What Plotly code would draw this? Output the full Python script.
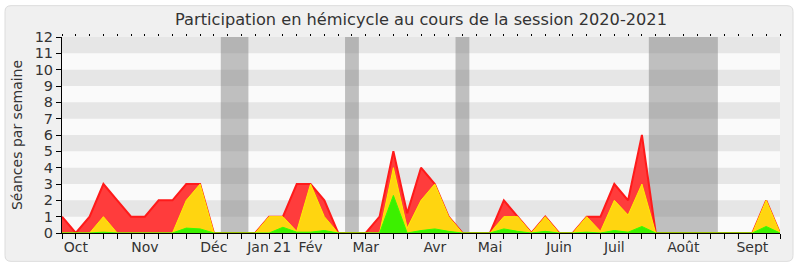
import plotly.graph_objects as go

# Weekly values (week index 0..52, session 2020-2021)
weeks = list(range(53))
total_red = [1, 0, 1, 3, 2, 1, 1, 2, 2, 3,
             3, 0, 0, 0, 0, 1, 1, 3, 3, 2,
             0, 0, 0, 1, 5, 1.2, 4, 3, 1, 0,
             0, 0, 2, 1, 0, 1, 0, 0, 1, 1,
             3, 2, 6, 0, 0, 0, 0, 0, 0, 0,
             0, 2, 0]
mid_yellow = [0, 0, 0, 1, 0, 0, 0, 0, 0, 2,
              3, 0, 0, 0, 0, 1, 1, 0.1, 3, 1,
              0, 0, 0, 0, 4, 0.3, 2, 3, 1, 0,
              0, 0, 1, 1, 0, 1, 0, 0, 1, 0.1,
              2, 1.1, 3, 0, 0, 0, 0, 0, 0, 0,
              0, 2, 0]
low_green = [0, 0, 0, 0.05, 0, 0, 0, 0, 0, 0.3,
             0.25, 0, 0, 0, 0, 0, 0.35, 0.05, 0.05, 0.15,
             0, 0, 0, 0, 2.3, 0, 0.15, 0.25, 0.1, 0,
             0, 0, 0.25, 0.1, 0, 0.1, 0, 0, 0.05, 0,
             0.15, 0.05, 0.4, 0, 0, 0, 0, 0, 0, 0,
             0, 0.4, 0]

month_ticks = [1, 6, 11, 15, 18, 22, 27, 31, 36, 40, 45, 50]
month_labels = ["Oct", "Nov", "Déc", "Jan 21", "Fév", "Mar", "Avr", "Mai", "Juin", "Juil", "Août", "Sept"]
vacations = [(11.5, 13.5), (20.5, 21.5), (28.5, 29.5), (42.5, 47.5)]
y_ticks = list(range(13))

W, H = 800, 267
ML, MR, MT, MB = 62, 20, 36.5, 33.5
pw = W - ML - MR
ph = H - MT - MB

def px_x(px):
    return (px - ML) / pw

def px_y(py):
    return (H - MB - py) / ph

fig = go.Figure()
fig.add_trace(go.Scatter(x=weeks, y=total_red, mode="lines", fill="tozeroy",
                         line=dict(color="#ff1a1a", width=2), fillcolor="#ff3c3c",
                         hoverinfo="skip", showlegend=False))
fig.add_trace(go.Scatter(x=weeks, y=mid_yellow, mode="lines", fill="tozeroy",
                         line=dict(color="#ffee00", width=1), fillcolor="#ffd510",
                         hoverinfo="skip", showlegend=False))
fig.add_trace(go.Scatter(x=weeks, y=low_green, mode="lines", fill="tozeroy",
                         line=dict(color="#33ff00", width=1), fillcolor="#3cf000",
                         hoverinfo="skip", showlegend=False))
fig.add_trace(go.Scatter(x=[], y=[], xaxis="x2", showlegend=False))

shapes = []
# outer rounded frame
x0, x1 = px_x(5), px_x(793)
y0, y1 = px_y(262), px_y(5)
rx, ry = 6 / pw, 6 / ph
path = (f"M {x0+rx},{y0} L {x1-rx},{y0} Q {x1},{y0} {x1},{y0+ry} "
        f"L {x1},{y1-ry} Q {x1},{y1} {x1-rx},{y1} L {x0+rx},{y1} Q {x0},{y1} {x0},{y1-ry} "
        f"L {x0},{y0+ry} Q {x0},{y0} {x0+rx},{y0} Z")
shapes.append(dict(type="path", path=path, xref="paper", yref="paper",
                   fillcolor="#f0f0f0", line=dict(color="#dcdcdc", width=1), layer="below"))
# plot area background
shapes.append(dict(type="rect", xref="paper", yref="paper", x0=0, x1=1, y0=0, y1=1,
                   fillcolor="#fafafa", line=dict(width=0), layer="below"))
for k in range(1, 12, 2):
    shapes.append(dict(type="rect", xref="paper", yref="y", x0=0, x1=1, y0=k, y1=k + 1,
                       fillcolor="#e6e6e6", line=dict(width=0), layer="below"))
for a, b in vacations:
    shapes.append(dict(type="rect", xref="x", yref="paper", x0=a, x1=b, y0=0, y1=1,
                       fillcolor="rgba(120,120,120,0.45)", line=dict(width=0), layer="below"))

ticktext = []
for w in weeks:
    ticktext.append(month_labels[month_ticks.index(w)] if w in month_ticks else "")

font_family = "DejaVu Sans"
fig.update_layout(
    width=W, height=H,
    margin=dict(l=ML, r=MR, t=MT, b=MB, pad=0, autoexpand=False),
    paper_bgcolor="white",
    plot_bgcolor="rgba(0,0,0,0)",
    font=dict(family=font_family, color="#333333", size=14),
    title=dict(text="Participation en hémicycle au cours de la session 2020-2021",
               x=(ML + pw / 2) / W, xanchor="center", y=1 - 19 / H, yanchor="middle",
               font=dict(size=16.2, color="#333333")),
    shapes=shapes,
    xaxis=dict(range=[0, 52], tickmode="array", tickvals=weeks, ticktext=ticktext,
               ticks="outside", ticklen=5, tickcolor="black", showline=True,
               linecolor="black", linewidth=1, showgrid=False, zeroline=False,
               automargin=False, ticklabelstandoff=-4,
               tickfont=dict(size=14, color="#333333")),
    xaxis2=dict(range=[0, 52], overlaying="x", side="top", anchor="y", tickmode="array",
                tickvals=weeks, ticks="outside", ticklen=2, tickcolor="black",
                showticklabels=False, showline=False, showgrid=False, zeroline=False,
                automargin=False),
    yaxis=dict(range=[0, 12], tickmode="array", tickvals=y_ticks,
               ticks="outside", ticklen=5, tickcolor="black", showline=True,
               linecolor="black", linewidth=1, showgrid=False, zeroline=False,
               automargin=False,
               title=dict(text="Séances par semaine", font=dict(size=14, color="#333333"), standoff=8),
               tickfont=dict(size=14.5, color="#333333")),
)

fig.write_html("out.html")
